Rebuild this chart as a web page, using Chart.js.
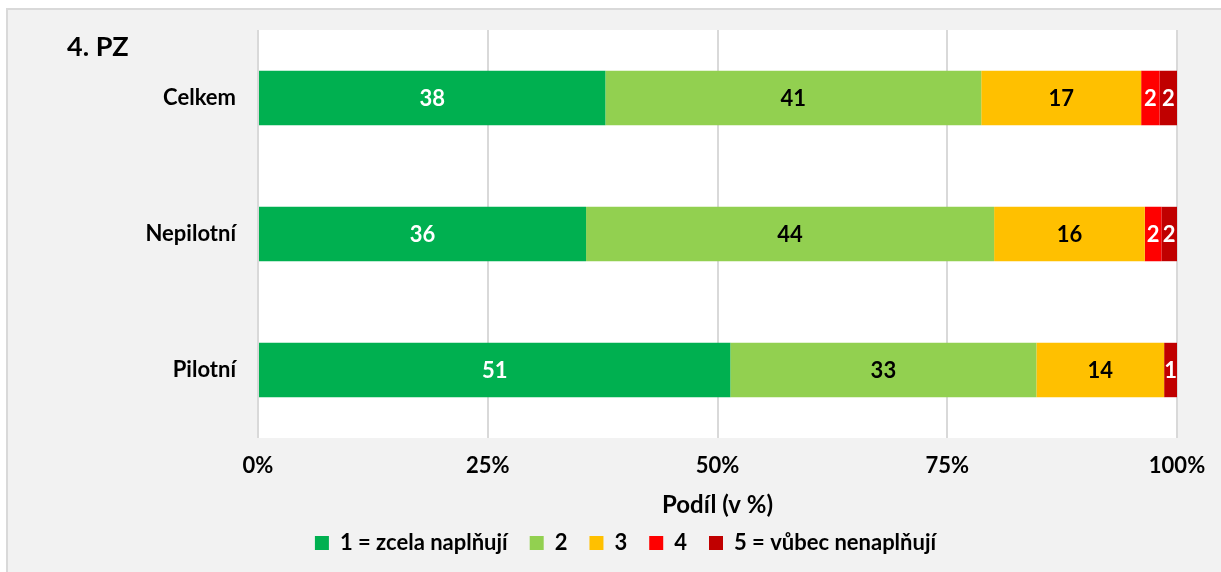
<!DOCTYPE html>
<html><head><meta charset="utf-8">
<script src="https://cdn.jsdelivr.net/npm/chart.js@4/dist/chart.umd.min.js"></script>
<style>
html,body{margin:0;padding:0;background:#fff;}
#bg{position:absolute;left:6px;top:8px;width:1300px;height:700px;background:#f2f2f2;border-left:2px solid #d9d9d9;border-top:2px solid #d9d9d9;}
#wrap{position:absolute;left:0;top:0;width:1221px;height:572px;}
body{width:1221px;height:572px;overflow:hidden;position:relative;}
</style></head>
<body>
<div id="bg"></div>
<div id="wrap"><canvas id="c" width="1221" height="572"></canvas></div>
<script>
const categories = ['Celkem', 'Nepilotní', 'Pilotní'];
const seriesNames = ['1 = zcela naplňují', '2', '3', '4', '5 = vůbec nenaplňují'];
const s1 = [37.8, 35.7, 51.4];
const s2 = [40.9, 44.4, 33.3];
const s3 = [17.4, 16.4, 13.9];
const s4 = [2.0, 1.8, 0];
const s5 = [1.9, 1.7, 1.4];
const xTicks = ['0%', '25%', '50%', '75%', '100%'];
const title = '4. PZ';
const axisTitle = 'Podíl (v %)';

const colors = ['#00b050', '#92d050', '#ffc000', '#ff0000', '#c00000'];
const labelColors = ['#ffffff', '#000000', '#000000', '#ffffff', '#ffffff'];
const FONT = 'Lato, "Open Sans", sans-serif';

const values = [s1, s2, s3, s4, s5];
const datasets = values.map((v, i) => ({
  label: seriesNames[i], data: v, backgroundColor: colors[i], borderWidth: 0,
  barPercentage: 1, categoryPercentage: 0.4
}));

const bgPlugin = {
  id: 'bgPlugin',
  afterLayout(chart) {
    const lg = chart.legend;
    if (lg) { lg.left += 37; lg.right += 37; }
  },
  beforeDraw(chart) {
    const {ctx, chartArea: a} = chart;
    ctx.save();
    ctx.fillStyle = '#ffffff';
    ctx.fillRect(a.left, a.top, a.right - a.left, a.bottom - a.top);
    ctx.fillStyle = '#000';
    ctx.font = 'bold 27px ' + FONT;
    ctx.textBaseline = 'middle';
    ctx.textAlign = 'left';
    ctx.fillText(title, 67, 47);
    ctx.restore();
  }
};

const labelPlugin = {
  id: 'labelPlugin',
  afterDatasetsDraw(chart) {
    const {ctx} = chart;
    ctx.save();
    ctx.font = 'bold 22px ' + FONT;
    ctx.textAlign = 'center';
    ctx.textBaseline = 'middle';
    chart.data.datasets.forEach((ds, i) => {
      const meta = chart.getDatasetMeta(i);
      meta.data.forEach((el, j) => {
        const v = ds.data[j];
        if (!v) return;
        ctx.fillStyle = labelColors[i];
        ctx.fillText(String(Math.round(v)), (el.x + el.base) / 2, el.y + 1);
      });
    });
    ctx.restore();
  }
};

new Chart(document.getElementById('c'), {
  type: 'bar',
  data: { labels: categories, datasets },
  options: {
    indexAxis: 'y',
    responsive: false,
    animation: false,
    layout: { padding: { left: 0, top: 30, right: 44, bottom: 8 } },
    scales: {
      x: {
        stacked: true, min: 0, max: 100,
        afterBuildTicks(scale) { scale.ticks = [0, 25, 50, 75, 100].map(v => ({value: v})); },
        ticks: {
          callback: (v, i) => xTicks[i],
          font: { family: FONT, size: 22, weight: 'bold' }, color: '#000', padding: 15, maxRotation: 0
        },
        grid: { color: '#d9d9d9', lineWidth: 2, drawTicks: false },
        border: { display: false },
        title: { display: true, text: axisTitle, color: '#000',
          font: { family: FONT, size: 24, weight: 'bold' }, padding: { top: 4, bottom: -10 } },
        afterFit(scale) { scale.height = 72; }
      },
      y: {
        stacked: true,
        ticks: { font: { family: FONT, size: 22, weight: 'bold' }, color: '#000', padding: 22 },
        grid: { display: false, drawTicks: false },
        border: { display: false },
        afterFit(scale) { scale.width = 258; scale.paddingTop = 0; scale.paddingBottom = 0; }
      }
    },
    plugins: {
      legend: {
        position: 'bottom',
        labels: { boxWidth: 14, boxHeight: 14, padding: 22, color: '#000',
          font: { family: FONT, size: 22, weight: 'bold' } }
      },
      tooltip: { enabled: false }
    }
  },
  plugins: [bgPlugin, labelPlugin]
});
</script>
</body></html>
